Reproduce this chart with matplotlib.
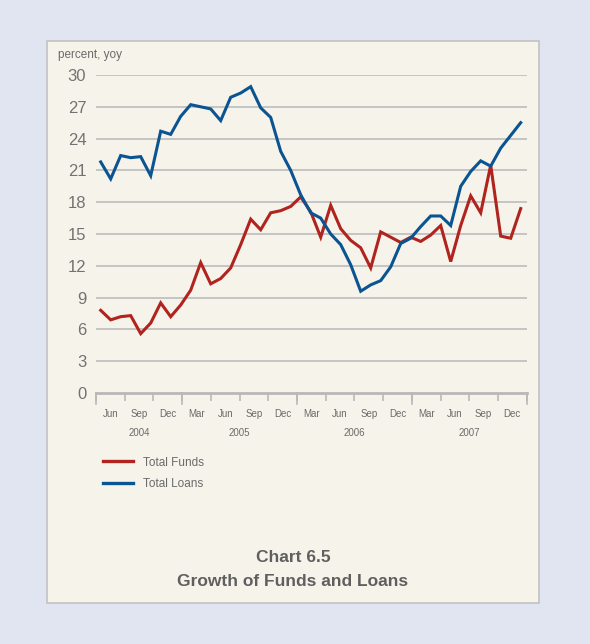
import matplotlib.pyplot as plt
import numpy as np
from matplotlib.patches import Rectangle

# Chart 6.5: Growth of Funds and Loans (percent, yoy), Apr 2004 - Dec 2007
total_funds = [
    7.8, 6.9, 7.2, 7.3, 5.6, 6.6, 8.5, 7.2, 8.3, 9.7,
    12.3, 10.3, 10.8, 11.8, 14.0, 16.4, 15.4, 17.0, 17.2, 17.6,
    18.5, 17.1, 14.7, 17.7, 15.5, 14.4, 13.7, 11.8, 15.2, 14.7,
    14.2, 14.7, 14.3, 14.9, 15.8, 12.4, 15.8, 18.6, 17.0, 21.5,
    14.8, 14.6, 17.4,
]
total_loans = [
    21.8, 20.2, 22.4, 22.2, 22.3, 20.5, 24.7, 24.4, 26.1, 27.2,
    27.0, 26.8, 25.7, 27.9, 28.3, 28.9, 26.9, 26.0, 22.8, 21.0,
    18.7, 17.0, 16.5, 15.0, 14.0, 12.1, 9.6, 10.2, 10.6, 11.9,
    14.1, 14.6, 15.7, 16.7, 16.7, 15.8, 19.5, 20.9, 21.9, 21.4,
    23.1, 24.3, 25.5,
]
month_labels = ["Jun", "Sep", "Dec",
                "Mar", "Jun", "Sep", "Dec",
                "Mar", "Jun", "Sep", "Dec",
                "Mar", "Jun", "Sep", "Dec"]
years = ["2004", "2005", "2006", "2007"]
quarters_per_year = [3, 4, 4, 4]

RED = "#b0231f"
BLUE = "#0b5492"
TEXT = "#6a6a6a"
GRID = "#c4c4c4"
FONT = ["Liberation Sans Narrow", "Liberation Sans", "DejaVu Sans"]

plt.rcParams["font.family"] = FONT

fig = plt.figure(figsize=(5.9, 6.44), dpi=100)
fig.patch.set_facecolor("#e1e5f1")
panel = Rectangle((47 / 590, 1 - 603 / 644), 492 / 590, 562 / 644,
                  transform=fig.transFigure, facecolor="#f6f4ea",
                  edgecolor="#c2c2c2", linewidth=1.2, zorder=-10)
fig.patches.append(panel)

ax = fig.add_axes([96 / 590, 1 - 393 / 644, 430.7 / 590, 318 / 644])
ax.set_facecolor("none")
ax.set_zorder(5)

n = len(total_funds)
x_max = 43.07
x = np.arange(n) + 0.47
ax.plot(x, total_funds, color=RED, lw=2.2, solid_joinstyle="miter", label="Total Funds", zorder=3)
ax.plot(x, total_loans, color=BLUE, lw=2.2, solid_joinstyle="miter", label="Total Loans", zorder=3)

ax.set_xlim(0, x_max)
ax.set_ylim(0, 30)
ax.set_yticks(range(0, 31, 3))
for v in range(3, 31, 3):
    ax.axhline(v, color=GRID, lw=1.4, zorder=1)
for s in ["top", "right", "left"]:
    ax.spines[s].set_visible(False)
ax.spines["bottom"].set_color("#b8b8b8")
ax.spines["bottom"].set_linewidth(2)
ax.tick_params(axis="y", length=0, pad=7, labelsize=12, labelcolor="#727272")

# quarter ticks, long ones at year boundaries
edges = np.linspace(0, x_max, len(month_labels) + 1)
ax.set_xticks(edges)
ax.set_xticklabels([])
ax.tick_params(axis="x", length=6, width=1.2, color="#b8b8b8")
bounds = np.cumsum([0] + quarters_per_year)
for b in bounds:
    ax.plot([edges[b], edges[b]], [0, -1.05], color="#b8b8b8", lw=1.2,
            clip_on=False, zorder=2)

centers = (edges[:-1] + edges[1:]) / 2
for c, lab in zip(centers, month_labels):
    ax.text(c, -2.0, lab, ha="center", va="center", fontsize=7, color=TEXT)
for y, a, b in zip(years, bounds[:-1], bounds[1:]):
    ax.text((edges[a] + edges[b]) / 2, -3.75, y, ha="center", va="center",
            fontsize=7, color=TEXT)

fig.text(58 / 590, 1 - 55 / 644, "percent, yoy", fontsize=8.5, color=TEXT,
         ha="left", va="center")

leg = ax.legend(loc="upper left", bbox_to_anchor=(92 / 590, 1 - 446 / 644),
                bbox_transform=fig.transFigure, frameon=False, fontsize=8.5,
                handlelength=2.6, handletextpad=0.8, labelspacing=0.8)
for t in leg.get_texts():
    t.set_color(TEXT)
for h in leg.get_lines():
    h.set_linewidth(2.4)

fig.text(293 / 590, 1 - 557 / 644, "Chart 6.5", fontsize=12.5, fontweight="bold",
         color="#5f5f5f", ha="center", va="center")
fig.text(293 / 590, 1 - 581 / 644, "Growth of Funds and Loans", fontsize=12.5,
         fontweight="bold", color="#5f5f5f", ha="center", va="center")

fig.savefig("out.png", dpi=100, facecolor=fig.get_facecolor())
